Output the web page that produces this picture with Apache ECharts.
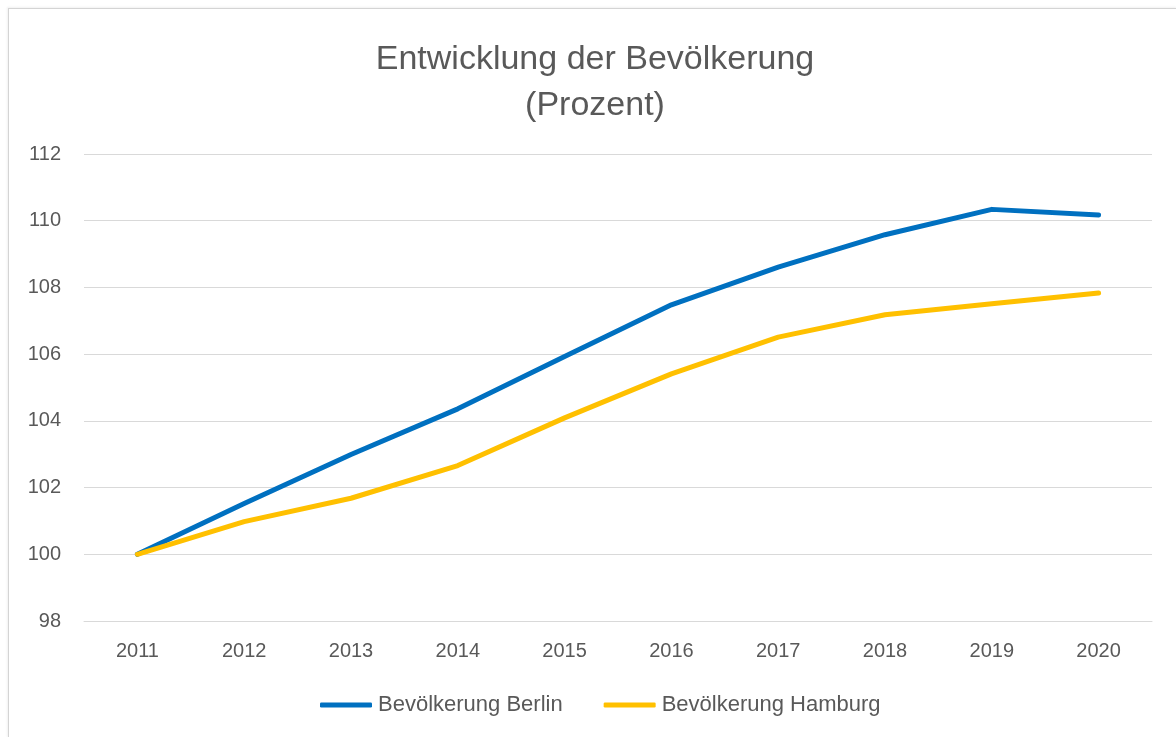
<!DOCTYPE html>
<html lang="de">
<head>
    <meta charset="UTF-8">
    <title>Entwicklung der Bevölkerung</title>
    <script src="https://cdn.jsdelivr.net/npm/echarts@6/dist/echarts.min.js"></script>
    <style>
        html, body { margin: 0; padding: 0; background: #fff; }
        #frame {
            position: absolute;
            left: 8px;
            top: 8px;
            width: 1168px;
            height: 729px;
            border-top: 1px solid #d4d4d4;
            border-left: 1px solid #d4d4d4;
            box-shadow: -1px -1px 2px rgba(0,0,0,0.06);
        }
        #main {
            position: absolute;
            left: 0;
            top: 0;
            width: 1176px;
            height: 737px;
        }
    </style>
</head>
<body>
    <div id="frame"></div>
    <div id="main"></div>

    <script>
        // Daten
        var years = ['2011', '2012', '2013', '2014', '2015', '2016', '2017', '2018', '2019', '2020'];
        var berlin = [100, 101.52, 102.99, 104.36, 105.93, 107.48, 108.61, 109.58, 110.34, 110.17];
        var hamburg = [100, 100.98, 101.68, 102.66, 104.09, 105.41, 106.51, 107.18, 107.51, 107.83];

        var textColor = '#595959';
        var font = 'Liberation Sans, Arial, sans-serif';

        var myChart = echarts.init(document.getElementById('main'));

        var option = {
            animation: false,
            title: {
                text: 'Entwicklung der Bevölkerung\n(Prozent)',
                left: 590,
                textAlign: 'center',
                top: 32,
                textStyle: {
                    color: textColor,
                    fontFamily: font,
                    fontWeight: 'normal',
                    fontSize: 34,
                    lineHeight: 46
                }
            },
            grid: {
                left: 84,
                right: 24,
                top: 154,
                bottom: 116
            },
            legend: {
                bottom: 16,
                left: 315,
                itemWidth: 52,
                itemHeight: 5,
                itemGap: 41,
                icon: 'roundRect',
                textStyle: {
                    color: textColor,
                    fontFamily: font,
                    fontSize: 22,
                    padding: [0, 0, 0, 1]
                },
                data: ['Bevölkerung Berlin', 'Bevölkerung Hamburg']
            },
            xAxis: {
                type: 'category',
                data: years,
                boundaryGap: true,
                axisLine: { show: true, lineStyle: { color: '#d9d9d9' } },
                axisTick: { show: false },
                axisLabel: {
                    color: textColor,
                    fontFamily: font,
                    fontSize: 20,
                    margin: 20
                }
            },
            yAxis: {
                type: 'value',
                min: 98,
                max: 112,
                interval: 2,
                axisLine: { show: false },
                axisTick: { show: false },
                axisLabel: {
                    color: textColor,
                    fontFamily: font,
                    fontSize: 20,
                    margin: 23
                },
                splitLine: { lineStyle: { color: '#d9d9d9', width: 1 } }
            },
            series: [
                {
                    name: 'Bevölkerung Berlin',
                    type: 'line',
                    data: berlin,
                    symbol: 'none',
                    color: '#0070C0',
                    lineStyle: { width: 5, cap: 'round', join: 'round' }
                },
                {
                    name: 'Bevölkerung Hamburg',
                    type: 'line',
                    data: hamburg,
                    symbol: 'none',
                    color: '#FFC000',
                    lineStyle: { width: 5, cap: 'round', join: 'round' }
                }
            ]
        };

        myChart.setOption(option);
    </script>
</body>
</html>
